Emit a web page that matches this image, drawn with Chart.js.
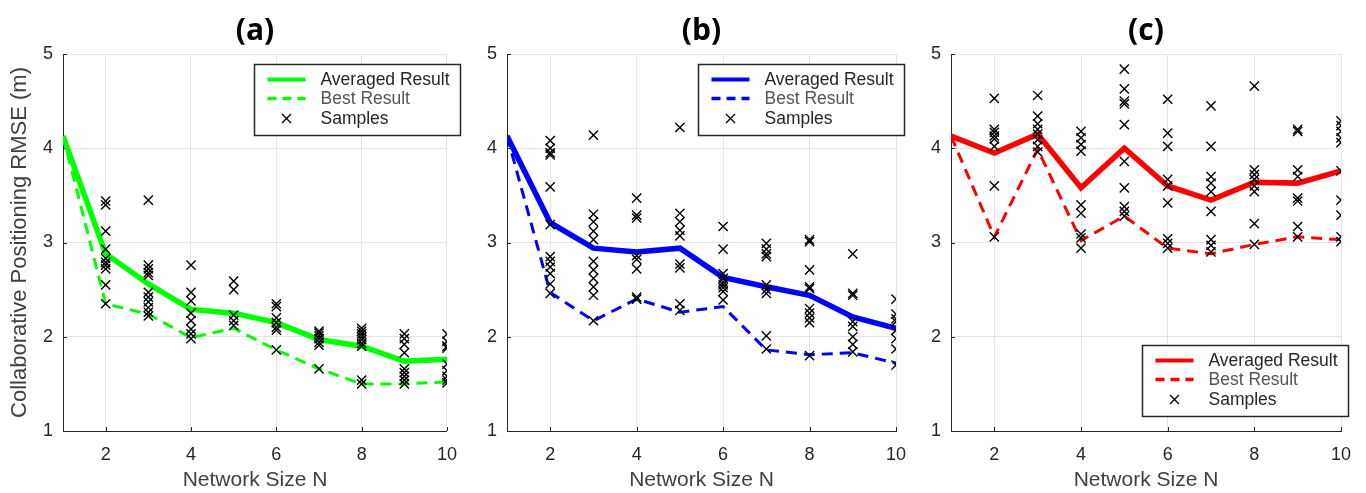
<!DOCTYPE html>
<html><head><meta charset="utf-8">
<script src="https://cdn.jsdelivr.net/npm/chart.js@4.4.0/dist/chart.umd.min.js"></script>
<style>
html,body{margin:0;padding:0;background:#fff;}
#wrap{position:relative;width:1366px;height:493px;overflow:hidden;background:#fff;}
canvas{position:absolute;top:0;}
</style></head><body>
<div id="wrap">
<canvas id="ca" width="470" height="493" style="left:0px"></canvas>
<canvas id="cb" width="450" height="493" style="left:470px"></canvas>
<canvas id="cc" width="446" height="493" style="left:920px"></canvas>
</div>
<script>
// ---- data ----
const networkSizes = [1, 2, 3, 4, 5, 6, 7, 8, 9, 10];
const sampleSizes = [2, 3, 4, 5, 6, 7, 8, 9, 10];
const xTickValues = [2, 4, 6, 8, 10];
const yTickValues = [1, 2, 3, 4, 5];
const legendLabels = ['Averaged Result', 'Best Result', 'Samples'];
const panelTitles = ['(a)', '(b)', '(c)'];
const xAxisTitle = 'Network Size N';
const yAxisTitle = 'Collaborative Positioning RMSE (m)';

const avgA = [4.13, 2.88, 2.56, 2.29, 2.25, 2.15, 1.97, 1.90, 1.74, 1.76];
const bestA = [4.13, 2.35, 2.24, 1.99, 2.09, 1.86, 1.66, 1.50, 1.50, 1.52];
const samplesA = [
  [3.44, 3.40, 3.12, 2.93, 2.83, 2.79, 2.76, 2.72, 2.55, 2.35],
  [3.45, 2.76, 2.72, 2.68, 2.65, 2.47, 2.42, 2.37, 2.31, 2.26, 2.22],
  [2.76, 2.47, 2.38, 2.25, 2.17, 2.08, 2.03, 1.98],
  [2.59, 2.50, 2.23, 2.17, 2.12],
  [2.35, 2.32, 2.20, 2.15, 2.10, 2.07, 1.86],
  [2.06, 2.04, 2.01, 1.98, 1.94, 1.91, 1.66],
  [2.09, 2.06, 2.03, 2.00, 1.97, 1.93, 1.90, 1.54, 1.50],
  [2.03, 1.98, 1.92, 1.83, 1.66, 1.62, 1.58, 1.54, 1.50],
  [2.03, 1.95, 1.90, 1.88, 1.71, 1.64, 1.58, 1.54, 1.51]
];

const avgB = [4.13, 3.21, 2.94, 2.90, 2.94, 2.63, 2.53, 2.44, 2.21, 2.09];
const bestB = [4.13, 2.47, 2.17, 2.40, 2.26, 2.32, 1.86, 1.81, 1.83, 1.72];
const samplesB = [
  [4.08, 4.00, 3.95, 3.93, 3.59, 3.19, 2.85, 2.80, 2.74, 2.67, 2.56, 2.46],
  [4.14, 3.30, 3.22, 3.12, 3.03, 2.80, 2.71, 2.62, 2.53, 2.44, 2.17],
  [3.47, 3.29, 3.26, 2.86, 2.82, 2.72, 2.42, 2.40],
  [4.22, 3.31, 3.22, 3.13, 3.07, 2.77, 2.73, 2.35, 2.28],
  [3.17, 2.93, 2.67, 2.62, 2.58, 2.55, 2.52, 2.48, 2.39],
  [2.99, 2.93, 2.88, 2.85, 2.55, 2.50, 2.46, 2.01, 1.87],
  [3.03, 3.01, 2.71, 2.53, 2.51, 2.30, 2.25, 2.20, 2.15, 1.80],
  [2.88, 2.46, 2.44, 2.16, 2.11, 2.00, 1.92, 1.84],
  [2.40, 2.24, 2.19, 2.16, 2.07, 1.98, 1.87, 1.70]
];

const avgC = [4.13, 3.95, 4.15, 3.58, 4.00, 3.60, 3.45, 3.64, 3.63, 3.76];
const bestC = [4.13, 3.06, 3.99, 3.02, 3.28, 2.94, 2.88, 2.98, 3.06, 3.03];
const samplesC = [
  [4.53, 4.20, 4.17, 4.13, 4.10, 4.02, 3.60, 3.06],
  [4.56, 4.34, 4.26, 4.20, 4.15, 4.09, 4.02, 3.96],
  [4.18, 4.11, 4.04, 3.97, 3.40, 3.31, 3.09, 3.05, 2.94],
  [4.84, 4.63, 4.50, 4.47, 4.25, 3.86, 3.58, 3.38, 3.33, 3.28],
  [4.52, 4.16, 4.02, 3.67, 3.60, 3.42, 3.04, 2.99, 2.94],
  [4.45, 4.02, 3.70, 3.63, 3.54, 3.33, 3.03, 2.97, 2.90],
  [4.66, 3.77, 3.72, 3.67, 3.60, 3.54, 3.20, 2.98],
  [4.20, 4.18, 3.77, 3.70, 3.47, 3.44, 3.17, 3.06],
  [4.29, 4.24, 4.18, 4.11, 4.06, 3.76, 3.45, 3.29, 3.06, 3.01]
];

// ---- plugins ----
const FONT = "'Liberation Sans', Arial, sans-serif";
const AXIS = '#262626';

const innerTicks = {
  id: 'innerTicks',
  beforeDatasetsDraw(chart) {
    const ctx = chart.ctx, ca = chart.chartArea;
    const xs = chart.scales.x, ys = chart.scales.y;
    ctx.save();
    ctx.strokeStyle = AXIS; ctx.lineWidth = 1;
    ctx.beginPath();
    xs.ticks.forEach(t => { const p = Math.round(xs.getPixelForValue(t.value)) + 0.5; ctx.moveTo(p, ca.bottom); ctx.lineTo(p, ca.bottom - 4); });
    ys.ticks.forEach(t => { const p = Math.round(ys.getPixelForValue(t.value)) + 0.5; ctx.moveTo(ca.left, p); ctx.lineTo(ca.left + 4, p); });
    ctx.stroke();
    ctx.restore();
  }
};

const boxLegend = {
  id: 'boxLegend',
  afterDraw(chart, args, opts) {
    const ctx = chart.ctx, ca = chart.chartArea;
    const x0 = Math.round(ca.left + opts.dx) + 0.5, y0 = Math.round(opts.top) + 0.5;
    const w = opts.width, h = opts.height;
    ctx.save();
    ctx.fillStyle = '#fff';
    ctx.fillRect(x0, y0, w, h);
    ctx.strokeStyle = '#262626'; ctx.lineWidth = 1.5;
    ctx.strokeRect(x0, y0, w, h);
    const rowY = [15, 34, 54];
    legendLabels.forEach((lab, i) => {
      const ds = chart.data.datasets.find(d => d.label === lab);
      const y = y0 + rowY[i];
      if (ds.showLine) {
        ctx.strokeStyle = ds.borderColor;
        ctx.lineWidth = ds.borderDash ? 3.5 : 4;
        ctx.setLineDash(ds.borderDash ? [9, 6] : []);
        ctx.beginPath(); ctx.moveTo(x0 + 13, y); ctx.lineTo(x0 + 51, y); ctx.stroke();
        ctx.setLineDash([]);
      } else {
        const cx = x0 + 32, r = 4.5;
        ctx.strokeStyle = ds.pointBorderColor; ctx.lineWidth = ds.pointBorderWidth;
        ctx.beginPath();
        ctx.moveTo(cx - r, y - r); ctx.lineTo(cx + r, y + r);
        ctx.moveTo(cx - r, y + r); ctx.lineTo(cx + r, y - r);
        ctx.stroke();
      }
      ctx.fillStyle = i === 1 ? '#555555' : '#262626';
      ctx.font = '17.5px ' + FONT;
      ctx.textBaseline = 'middle';
      ctx.textAlign = 'left';
      ctx.fillText(lab, x0 + 66, y + 1);
    });
    ctx.restore();
  }
};

function toPoints(xs, ys) { return xs.map((x, i) => ({ x: x, y: ys[i] })); }
function samplePoints(groups) {
  const pts = [];
  groups.forEach((vals, i) => vals.forEach(v => pts.push({ x: sampleSizes[i], y: v })));
  return pts;
}

function makePanel(id, title, avg, best, samples, color, cfg) {
  return new Chart(document.getElementById(id), {
    type: 'scatter',
    data: {
      datasets: [
        { label: legendLabels[2], data: samplePoints(samples), showLine: false, order: 0,
          pointStyle: 'crossRot', pointRadius: 6.5, pointHoverRadius: 6.5,
          pointBorderColor: '#000', pointBorderWidth: 1.4, pointBackgroundColor: '#000' },
        { label: legendLabels[0], data: toPoints(networkSizes, avg), showLine: true, order: 1,
          borderColor: color, borderWidth: 5.5, pointRadius: 0, pointHoverRadius: 0, fill: false },
        { label: legendLabels[1], data: toPoints(networkSizes, best), showLine: true, order: 2,
          borderColor: color, borderWidth: 3, borderDash: [11, 7], pointRadius: 0, pointHoverRadius: 0, fill: false }
      ]
    },
    options: {
      responsive: false, animation: false, devicePixelRatio: 1,
      layout: { padding: { left: 0, right: cfg.padRight, top: 0, bottom: 0 } },
      plugins: {
        legend: { display: false },
        tooltip: { enabled: false },
        title: { display: true, text: title, fullSize: false, color: '#000',
          font: { family: "'Open Sans', sans-serif", weight: 'bold', size: 30 },
          padding: { top: 13, bottom: 5 } },
        boxLegend: { dx: 191, top: cfg.legendTop, width: 206, height: 71 }
      },
      scales: {
        x: {
          type: 'linear', min: 1, max: 10,
          afterBuildTicks: s => { s.ticks = xTickValues.map(v => ({ value: v })); },
          afterFit: s => { s.height = 62; },
          grid: { color: '#e4e4e4', lineWidth: 1, drawTicks: false },
          border: { display: true, color: AXIS, width: 1 },
          ticks: { padding: 13, color: AXIS, maxRotation: 0, autoSkip: false,
            font: { family: FONT, size: 18 } },
          title: { display: true, text: xAxisTitle, color: '#404040',
            font: { family: FONT, size: 21 }, padding: { top: 0, bottom: 0 } }
        },
        y: {
          type: 'linear', min: 1, max: 5,
          afterBuildTicks: s => { s.ticks = yTickValues.map(v => ({ value: v })); },
          afterFit: s => { s.width = cfg.yWidth; },
          grid: { color: '#e4e4e4', lineWidth: 1, drawTicks: false },
          border: { display: true, color: AXIS, width: 1 },
          ticks: { padding: 10, color: AXIS, font: { family: FONT, size: 18 } },
          title: { display: cfg.showYTitle, text: yAxisTitle, color: '#404040',
            font: { family: FONT, size: 22 }, padding: { top: 7, bottom: 0 } }
        }
      }
    },
    plugins: [innerTicks, boxLegend]
  });
}

makePanel('ca', panelTitles[0], avgA, bestA, samplesA, '#00ff00', { yWidth: 63, padRight: 17, showYTitle: true, legendTop: 64 });
makePanel('cb', panelTitles[1], avgB, bestB, samplesB, '#0000ff', { yWidth: 37, padRight: 24, showYTitle: false, legendTop: 64 });
makePanel('cc', panelTitles[2], avgC, bestC, samplesC, '#ff0000', { yWidth: 31, padRight: 25, showYTitle: false, legendTop: 345 });
</script>
</body></html>
